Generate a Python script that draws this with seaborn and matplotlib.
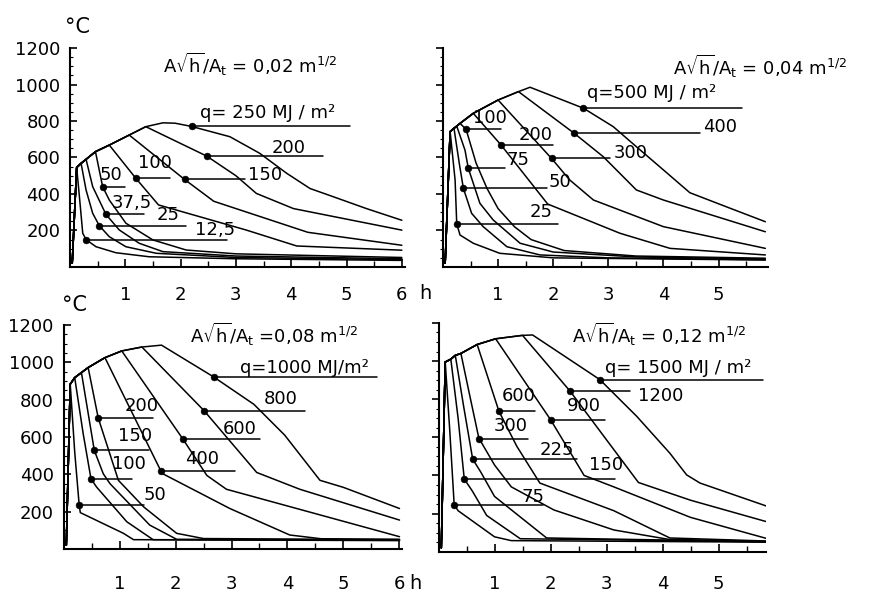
import numpy as np
import pandas as pd
import seaborn as sns
import matplotlib.pyplot as plt

sns.set_style("ticks")
plt.rcParams['font.family'] = ['DejaVu Sans']
plt.rcParams['mathtext.fontset'] = 'dejavusans'
for key in ['text.color', 'axes.labelcolor', 'xtick.color', 'ytick.color', 'axes.edgecolor']:
    plt.rcParams[key] = 'black'

# Temperature-time curves (h, degC). Each panel has one common heating branch;
# every cooling branch starts where it leaves the heating branch.

# --- A*sqrt(h)/At = 0.02 ---
ENV1_H = [0.04, 0.12, 0.20, 0.29, 0.46, 0.71, 1.07, 1.37, 1.68]
ENV1_T = [20, 545, 568, 590, 632, 668, 723, 769, 790]
COOL1 = {
    "250": ([1.68, 1.9, 2.2, 2.89, 3.43, 3.92, 4.34, 4.76, 5.36, 6.0],
            [790, 788, 770, 714, 623, 513, 430, 385, 320, 256]),
    "200": ([1.37, 2.47, 3.0, 3.37, 4.04, 6.0], [769, 608, 500, 403, 320, 202]),
    "150": ([1.07, 2.07, 2.6, 3.2, 4.3, 6.0], [723, 480, 360, 300, 190, 119]),
    "100": ([0.71, 1.19, 1.6, 3.18, 4.1, 6.0], [668, 486, 340, 203, 115, 92]),
    "50": ([0.46, 0.59, 0.71, 1.01, 1.5, 2.1, 3.0, 6.0], [632, 440, 367, 240, 148, 93, 72, 52]),
    "37,5": ([0.29, 0.41, 0.65, 0.89, 1.25, 1.68, 3.0, 6.0], [590, 440, 288, 203, 130, 84, 60, 45]),
    "25": ([0.20, 0.29, 0.41, 0.53, 0.71, 1.01, 1.56, 3.0, 6.0], [568, 422, 294, 226, 166, 111, 75, 52, 40]),
    "12,5": ([0.12, 0.17, 0.23, 0.29, 0.47, 0.83, 1.43, 3.0, 6.0], [545, 385, 185, 150, 111, 78, 56, 45, 36]),
}
DOT1_H = [2.2, 2.47, 2.07, 1.19, 0.59, 0.65, 0.53, 0.29]
LABEL1 = ["q= 250 MJ / m²", "200", "150", "100", "50", "37,5", "25", "12,5"]

# --- A*sqrt(h)/At = 0.04 ---
ENV2_H = [0.04, 0.13, 0.20, 0.25, 0.31, 0.55, 1.00, 1.37, 1.58]
ENV2_T = [20, 742, 760, 772, 787, 842, 915, 961, 985]
COOL2 = {
    "500": ([1.58, 2.55, 3.09, 3.51, 4.0, 4.48, 5.21, 5.85], [985, 870, 769, 659, 532, 407, 322, 248]),
    "400": ([1.37, 2.38, 2.91, 3.51, 4.0, 5.85], [961, 733, 604, 422, 367, 193]),
    "300": ([1.0, 1.97, 2.3, 2.73, 4.0, 5.85], [915, 595, 477, 367, 221, 102]),
    "200": ([0.55, 1.05, 1.9, 3.21, 4.12, 5.85], [842, 670, 345, 185, 102, 66]),
    "100": ([0.31, 0.42, 0.6, 0.8, 1.0, 1.3, 1.6, 2.2, 3.5, 5.85], [787, 754, 570, 430, 320, 220, 150, 90, 60, 48]),
    "75": ([0.25, 0.4, 0.46, 0.67, 0.91, 1.4, 2.0, 3.5, 5.85], [772, 640, 541, 349, 258, 130, 82, 55, 44]),
    "50": ([0.2, 0.3, 0.37, 0.52, 0.73, 1.16, 1.76, 3.0, 5.85], [760, 560, 431, 294, 221, 111, 66, 50, 40]),
    "25": ([0.13, 0.22, 0.25, 0.31, 0.55, 1.03, 2.0, 5.85], [742, 477, 236, 175, 130, 75, 50, 38]),
}
DOT2_H = [2.55, 2.38, 1.97, 1.05, 0.42, 0.46, 0.37, 0.25]
LABEL2 = ["q=500 MJ / m²", "400", "300", "200", "100", "75", "50", "25"]

# --- A*sqrt(h)/At = 0.08 ---
ENV3_H = [0.05, 0.12, 0.20, 0.32, 0.44, 0.74, 1.04, 1.40, 1.75]
ENV3_T = [20, 883, 918, 945, 972, 1025, 1061, 1082, 1092]
COOL3 = {
    "1000": ([1.75, 2.68, 3.4, 3.95, 4.58, 5.0, 6.0], [1092, 922, 775, 610, 368, 330, 217]),
    "800": ([1.4, 2.51, 3.45, 4.22, 6.0], [1082, 741, 410, 320, 155]),
    "600": ([1.04, 2.13, 2.56, 2.91, 6.0], [1061, 590, 394, 320, 66]),
    "400": ([0.74, 1.76, 2.97, 4.04, 4.6, 6.0], [1025, 405, 217, 75, 55, 52]),
    "200": ([0.44, 0.62, 0.98, 1.43, 2.02, 2.5, 6.0], [972, 702, 368, 226, 84, 56, 50]),
    "150": ([0.32, 0.55, 0.71, 0.83, 1.54, 2.02, 6.0], [945, 528, 403, 350, 128, 52, 48]),
    "100": ([0.2, 0.35, 0.49, 0.59, 1.13, 1.6, 6.0], [918, 620, 377, 332, 146, 50, 47]),
    "50": ([0.12, 0.2, 0.28, 0.3, 1.07, 1.25, 6.0], [883, 520, 235, 195, 84, 50, 45]),
}
DOT3_H = [2.68, 2.51, 2.13, 1.74, 0.62, 0.55, 0.49, 0.28]
LABEL3 = ["q=1000 MJ/m²", "800", "600", "400", "200", "150", "100", "50"]

# --- A*sqrt(h)/At = 0.12 ---
ENV4_H = [0.05, 0.12, 0.22, 0.30, 0.40, 0.69, 1.02, 1.50, 1.68]
ENV4_T = [20, 995, 1010, 1030, 1040, 1087, 1117, 1135, 1137]
COOL4 = {
    "1500": ([1.68, 2.88, 3.54, 4.13, 4.43, 4.67, 5.85], [1137, 903, 710, 517, 403, 360, 240]),
    "1200": ([1.5, 2.35, 3.57, 4.5, 5.85], [1135, 842, 363, 270, 158]),
    "900": ([1.02, 2.0, 2.6, 3.13, 4.5, 5.85], [1117, 693, 400, 340, 180, 70]),
    "600": ([0.69, 1.08, 1.4, 1.81, 3.13, 4.13, 5.85], [1087, 736, 552, 360, 215, 72, 56]),
    "300": ([0.4, 0.55, 0.72, 1.0, 1.3, 2.06, 3.13, 4.1, 5.85], [1040, 830, 596, 455, 340, 219, 114, 65, 54]),
    "225": ([0.3, 0.45, 0.61, 0.75, 1.0, 1.93, 5.85], [1030, 760, 486, 420, 290, 72, 52]),
    "150": ([0.22, 0.35, 0.46, 0.6, 0.86, 1.46, 5.85], [1010, 700, 381, 320, 190, 68, 52]),
    "75": ([0.12, 0.2, 0.28, 0.35, 1.0, 1.3, 5.85], [995, 640, 246, 215, 78, 58, 50]),
}
DOT4_H = [2.88, 2.35, 2.0, 1.08, 0.73, 0.61, 0.46, 0.28]
LABEL4 = ["q= 1500 MJ / m²", "1200", "900", "600", "300", "225", "150", "75"]

TITLES = [r"A$\sqrt{\mathrm{h}}$/A$_\mathrm{t}$ = 0,02 m$^{1/2}$",
          r"A$\sqrt{\mathrm{h}}$/A$_\mathrm{t}$ = 0,04 m$^{1/2}$",
          r"A$\sqrt{\mathrm{h}}$/A$_\mathrm{t}$ =0,08 m$^{1/2}$",
          r"A$\sqrt{\mathrm{h}}$/A$_\mathrm{t}$ = 0,12 m$^{1/2}$"]

# layout: label text position (h, degC) and leader line end (h)
TEXT_POS = [
    [(2.35, 843), (3.64, 650), (3.22, 504), (1.23, 568), (0.54, 504), (0.75, 348), (1.57, 284), (2.26, 201)],
    [(2.61, 952), (4.72, 769), (3.09, 623), (1.37, 723), (0.55, 815), (1.16, 586), (1.91, 467), (1.58, 303)],
    [(3.15, 972), (3.57, 803), (2.85, 643), (2.17, 483), (1.10, 768), (0.98, 608), (0.86, 457), (1.43, 288)],
    [(2.97, 965), (3.57, 815), (2.29, 763), (1.13, 815), (0.98, 658), (1.81, 535), (2.68, 456), (1.48, 289)],
]
LEAD_END = [
    [5.06, 4.58, 3.16, 1.80, 0.99, 1.33, 2.10, 2.83],
    [5.42, 4.66, 3.03, 2.00, 1.06, 1.12, 1.88, 2.09],
    [5.59, 4.31, 3.51, 3.06, 1.60, 1.52, 1.22, 1.43],
    [5.80, 3.42, 2.97, 1.72, 1.60, 2.47, 3.15, 1.87],
]
TITLE_POS = [(1.69, 1108), (4.18, 1098), (2.26, 1150), (2.38, 1140)]

fig = plt.figure(figsize=(8.92, 5.95), dpi=100)
boxes = [[0.0785, 0.5513, 0.3751, 0.368],
         [0.4966, 0.5513, 0.3645, 0.368],
         [0.0712, 0.0773, 0.3798, 0.3765],
         [0.4916, 0.0728, 0.3673, 0.3844]]
xmax = [6.05, 5.9, 6.05, 5.85]
xpad = [13.5, 13.5, 19, 17]

panels = [(ENV1_H, ENV1_T, COOL1, DOT1_H, LABEL1),
          (ENV2_H, ENV2_T, COOL2, DOT2_H, LABEL2),
          (ENV3_H, ENV3_T, COOL3, DOT3_H, LABEL3),
          (ENV4_H, ENV4_T, COOL4, DOT4_H, LABEL4)]

for i, (env_h, env_t, cool, dot_h, labels) in enumerate(panels):
    ax = fig.add_axes(boxes[i])
    frames = []
    for q, (ch, ct) in cool.items():
        hs = [h for h in env_h if h < ch[0]] + list(ch)
        ts = [t for h, t in zip(env_h, env_t) if h < ch[0]] + list(ct)
        frames.append(pd.DataFrame({'h': hs, 'T': ts, 'q': q}))
    df = pd.concat(frames, ignore_index=True)
    sns.lineplot(data=df, x='h', y='T', units='q', estimator=None, sort=False,
                 color='black', lw=1.1, ax=ax, legend=False)

    dots_x, dots_y = [], []
    for k, q in enumerate(cool):
        sub = df[df.q == q]
        dy = np.interp(dot_h[k], sub.h, sub['T'])
        dots_x.append(dot_h[k])
        dots_y.append(dy)
        ax.plot([dot_h[k], LEAD_END[i][k]], [dy, dy], color='black', lw=1.1)
        tx, ty = TEXT_POS[i][k]
        ax.text(tx, ty, labels[k], fontsize=13, ha='left', va='center', clip_on=(i == 3))
    sns.scatterplot(x=dots_x, y=dots_y, color='black', s=24, ax=ax, zorder=3, edgecolor='black')

    ax.text(TITLE_POS[i][0], TITLE_POS[i][1], TITLES[i], fontsize=13, ha='left',
            va='center', clip_on=(i == 3))

    ax.set_xlim(0, xmax[i])
    ax.set_ylim(0, 1200)
    sns.despine(ax=ax)
    for s in ['left', 'bottom']:
        ax.spines[s].set_linewidth(1.5)
        ax.spines[s].set_color('black')
    nmax = 6 if i in (0, 2) else 5
    ax.set_xticks(range(1, nmax + 1))
    ax.set_xticks(np.arange(0.5, xmax[i], 0.5), minor=True)
    ax.set_yticks(range(200, 1201, 200))
    ax.set_yticks(range(50, 1200, 50), minor=True)
    ax.set_xlabel('')
    ax.set_ylabel('')
    ax.tick_params(axis='x', which='major', direction='in', length=6, width=1.2,
                   pad=xpad[i], labelsize=13)
    ax.tick_params(axis='x', which='minor', direction='in', length=4, width=1)
    if i in (0, 2):
        ax.tick_params(axis='y', which='major', direction='in', length=5, width=1.2,
                       pad=7, labelsize=13)
        ax.tick_params(axis='y', which='minor', direction='in', length=2, width=0.8)
        ax.text(6.42 if i == 0 else 6.28, -0.119 if i == 0 else -0.152, 'h',
                transform=ax.get_xaxis_transform(), fontsize=14, ha='center', va='center')
    else:
        ax.tick_params(axis='y', which='major', direction='out', length=5, width=1.2,
                       labelleft=False)
        ax.tick_params(axis='y', which='minor', direction='out', length=2, width=0.8)

fig.text(65 / 892, 1 - 27 / 595, '°C', fontsize=15, ha='left', va='center')
fig.text(62 / 892, 1 - 305 / 595, '°C', fontsize=15, ha='left', va='center')

fig.savefig('out.png', dpi=100)
